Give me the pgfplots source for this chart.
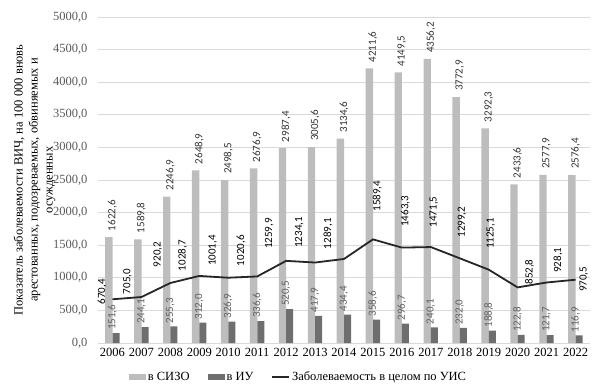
\documentclass[border=0pt]{standalone}
\usepackage{fontspec}
\setmainfont{Liberation Serif}
\newfontfamily\lblfont{Carlito}
\usepackage{pgfplots}
\usepackage{pgfplotstable}
\pgfplotsset{compat=1.18}
\definecolor{lightbar}{HTML}{BDBDBD}
\definecolor{darkbar}{HTML}{6E6E6E}
\definecolor{gridc}{HTML}{D9D9D9}
\definecolor{ticktxt}{HTML}{595959}
\definecolor{linec}{HTML}{262626}

\pgfplotstableread{
x sizo iu total dx dy
0 1622.6 151.6 670.4 -10.4 -6
1 1589.8 244.1 705.0 -14 2
2 2246.9 255.3 920.2 -12.7 15
3 2648.9 312.0 1028.7 -16.6 4
4 2498.5 326.9 1001.4 -15.5 11
5 2676.9 336.6 1020.6 -16 9.5
6 2987.4 520.5 1259.9 -16.8 11
7 3005.6 417.9 1234.1 -15.7 14
8 3134.6 434.4 1289.1 -16 9
9 4211.6 358.6 1589.4 4.5 27
10 4149.5 296.7 1463.3 3.6 20
11 4356.2 240.1 1471.5 3 19
12 3772.9 232.0 1299.2 2.3 20
13 3292.3 188.8 1125.1 2 20
14 2433.6 122.8 852.8 12 2
15 2577.9 121.7 928.1 11.6 9
16 2576.4 116.9 970.5 8.2 -13
}\data

\begin{document}
\begin{tikzpicture}
\useasboundingbox (-98pt,-48pt) rectangle (502pt,343pt);
\begin{axis}[
  at={(0pt,0pt)}, anchor=south west,
  scale only axis, width=492pt, height=326pt,
  xmin=-0.5, xmax=16.5, ymin=0, ymax=5000,
  ytick distance=500,
  xtick={0,...,16},
  xticklabels={2006,2007,2008,2009,2010,2011,2012,2013,2014,2015,2016,2017,2018,2019,2020,2021,2022},
  /pgf/number format/.cd, fixed, fixed zerofill, precision=1, use comma, 1000 sep={}, assume math mode=true,
  /pgfplots/.cd,
  axis line style={draw=none},
  major tick length=0pt,
  ymajorgrids, grid style={draw=gridc, line width=0.8pt},
  yticklabel style={font=\fontsize{12.5}{14}\selectfont, text=ticktxt, xshift=-7pt},
  xticklabel style={font=\fontsize{12.5}{14}\selectfont, text=black, yshift=-2pt},
  ylabel={Показатель заболеваемости ВИЧ, на 100 000 вновь\\арестованных, подозреваемых, обвиняемых и\\осужденных},
  ylabel style={align=center, font=\fontsize{12.5}{15}\selectfont, yshift=-9pt},
  clip=false,
  legend columns=3,
  legend style={draw=none, fill=none, at={(0.4075,-0.104)}, anchor=center,
    font=\fontsize{12.5}{14}\selectfont,
    /tikz/every even column/.append style={column sep=16pt}},
  legend cell align=left,
]
\addplot[ybar, bar width=7.4pt, bar shift=-3.6pt, fill=lightbar, draw=none,
  area legend,
  legend image code/.code={\fill[lightbar] (0pt,-3pt) rectangle (17pt,3pt);},
  nodes near coords, point meta=explicit,
  nodes near coords style={font=\lblfont\fontsize{11}{12}\selectfont, text=black!80, rotate=90, anchor=west, inner xsep=6pt, inner ysep=0pt}]
  table[x=x, y=sizo, meta=sizo] {\data};
\addlegendentry{в СИЗО}
\addplot[ybar, bar width=7pt, bar shift=3.6pt, fill=darkbar, draw=none,
  area legend,
  legend image code/.code={\fill[darkbar] (0pt,-3pt) rectangle (17pt,3pt);},
  nodes near coords, point meta=explicit,
  nodes near coords style={font=\lblfont\fontsize{11}{12}\selectfont, text=black!62, rotate=90, anchor=west, inner xsep=3pt, inner ysep=0pt}]
  table[x=x, y=iu, meta=iu] {\data};
\addlegendentry{в ИУ}
\addplot[linec, line width=1.8pt, mark=none,
  legend image code/.code={\draw[linec, line width=1.6pt] (0pt,0pt) -- (17pt,0pt);},
  visualization depends on={\thisrow{dx} \as \dx},
  visualization depends on={\thisrow{dy} \as \dy},
  nodes near coords, point meta=explicit,
  nodes near coords style={font=\lblfont\fontsize{11}{12}\selectfont, text=black, xshift=\dx pt, yshift=\dy pt, rotate=90, anchor=west, inner sep=0pt}]
  table[x=x, y=total, meta=total] {\data};
\addlegendentry{Заболеваемость в целом по УИС}
\end{axis}
\end{tikzpicture}
\end{document}
